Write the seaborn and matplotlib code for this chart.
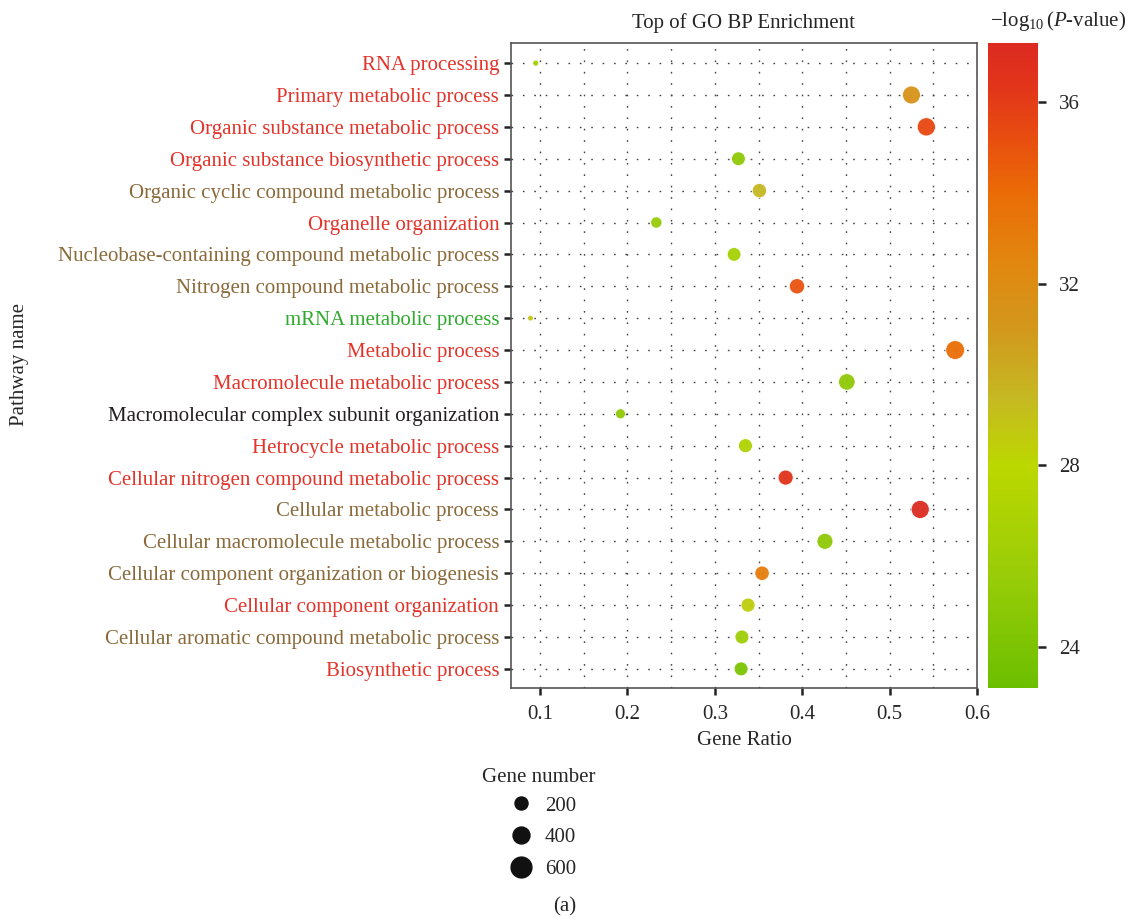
import numpy as np
import pandas as pd
import matplotlib
matplotlib.use("Agg")
import matplotlib.pyplot as plt
import seaborn as sns
from matplotlib.colors import LinearSegmentedColormap, Normalize
from matplotlib.cm import ScalarMappable
from matplotlib.lines import Line2D

pathways = [
    "RNA processing",
    "Primary metabolic process",
    "Organic substance metabolic process",
    "Organic substance biosynthetic process",
    "Organic cyclic compound metabolic process",
    "Organelle organization",
    "Nucleobase-containing compound metabolic process",
    "Nitrogen compound metabolic process",
    "mRNA metabolic process",
    "Metabolic process",
    "Macromolecule metabolic process",
    "Macromolecular complex subunit organization",
    "Hetrocycle metabolic process",
    "Cellular nitrogen compound metabolic process",
    "Cellular metabolic process",
    "Cellular macromolecule metabolic process",
    "Cellular component organization or biogenesis",
    "Cellular component organization",
    "Cellular aromatic compound metabolic process",
    "Biosynthetic process",
]
gene_ratio = [0.095, 0.525, 0.542, 0.327, 0.351, 0.233, 0.322, 0.394, 0.089, 0.575,
              0.451, 0.192, 0.335, 0.381, 0.535, 0.426, 0.354, 0.338, 0.331, 0.330]
gene_number = [112, 620, 640, 385, 414, 274, 380, 465, 104, 678,
               532, 227, 395, 450, 631, 502, 418, 399, 391, 389]
neg_log_p = [26.5, 31.5, 35.5, 25.0, 29.5, 25.5, 26.5, 35.0, 29.0, 34.0,
             25.0, 25.0, 27.0, 36.5, 37.2, 25.0, 33.0, 28.5, 26.0, 24.0]
label_colors = ["r", "r", "r", "r", "b", "r", "b", "b", "g", "r",
                "r", "k", "r", "r", "b", "b", "b", "r", "b", "r"]
color_map = {"r": "#e3342b", "b": "#8a6a3a", "g": "#2eaa2e", "k": "#231f20"}
legend_counts = ["200", "400", "600"]

df = pd.DataFrame({"Pathway": pathways, "GeneRatio": gene_ratio,
                   "Count": gene_number, "logp": neg_log_p})

sns.set_style("white")
plt.rcParams["font.family"] = ["Liberation Serif", "DejaVu Serif"]
plt.rcParams["mathtext.fontset"] = "custom"
plt.rcParams["mathtext.rm"] = "Liberation Serif"
plt.rcParams["mathtext.it"] = "Liberation Serif:italic"
FS = 15

vmin, vmax = 23.1, 37.3
stops = [(23.1, "#6cbf00"), (25.5, "#98cc08"), (28.0, "#bcd800"), (29.5, "#c6b822"),
         (31.0, "#d2981c"), (32.5, "#e2860f"), (34.0, "#ea6c06"), (35.3, "#e84c10"),
         (36.3, "#e2361a"), (37.3, "#dc2a20")]
cmap = LinearSegmentedColormap.from_list(
    "gobp", [((v - vmin) / (vmax - vmin), c) for v, c in stops])
norm = Normalize(vmin, vmax)

W, H = 1131, 919
fig = plt.figure(figsize=(W / 100, H / 100), dpi=100)
ax = fig.add_axes([511 / W, 1 - 688 / H, 466 / W, 645 / H])
cax = fig.add_axes([988 / W, 1 - 688 / H, 50 / W, 645 / H])

sns.scatterplot(data=df, x="GeneRatio", y="Pathway", hue="logp", size="Count",
                palette=cmap, hue_norm=norm, sizes=(16, 185), size_norm=(100, 680),
                edgecolor="white", linewidth=0.6, alpha=0.95, legend=False, ax=ax, zorder=3)

ax.set_xlim(0.0667, 0.6)
ax.set_ylim(len(pathways) - 1 + 0.6, -0.63)
ax.set_xticks([0.1, 0.2, 0.3, 0.4, 0.5, 0.6])
ax.set_xticks(np.arange(0.15, 0.6, 0.1), minor=True)
ax.set_yticks(range(len(pathways)))
ax.set_yticklabels(pathways)
ax.grid(True, which="both", linestyle=(0, (1.2, 7)), color="#444444", linewidth=1.0)
ax.set_axisbelow(True)
for s in ax.spines.values():
    s.set_color("#555555")
    s.set_linewidth(1.2)
ax.tick_params(axis="both", which="major", direction="out", length=5, width=1.8,
               color="#222222", labelsize=FS, bottom=True, left=True)
ax.tick_params(axis="x", which="major", pad=7)
ax.tick_params(axis="x", which="minor", length=0)
for lbl, c in zip(ax.get_yticklabels(), label_colors):
    lbl.set_color(color_map[c])
ax.set_xlabel("Gene Ratio", fontsize=FS, labelpad=5)
ax.set_ylabel("")
fig.text(20 / W, 1 - 365 / H, "Pathway name", rotation=90, ha="center", va="center",
         fontsize=FS)
ax.set_title("Top of GO BP Enrichment", fontsize=FS, pad=11)

cb = fig.colorbar(ScalarMappable(norm=norm, cmap=cmap), cax=cax, ticks=[24, 28, 32, 36])
cb.outline.set_visible(False)
cax.tick_params(length=6, width=1.8, color="#222222", labelsize=FS, pad=9)
fig.text(1058 / W, 1 - 21 / H, r"$-\mathrm{log}_{10}\,(P$-value)", ha="center",
         va="center", fontsize=FS)

fig.text(482 / W, 1 - 777 / H, "Gene number", ha="left", va="center", fontsize=FS)
handles = [Line2D([], [], marker="o", linestyle="", color="#111111", markersize=ms)
           for ms in (9.4, 12.2, 15.0)]
leg = fig.legend(handles, legend_counts, loc="upper left",
                 bbox_to_anchor=(504 / W, 1 - 796 / H), frameon=False, fontsize=FS,
                 labelspacing=0.58, handlelength=1.6, handletextpad=0.35,
                 borderaxespad=0, borderpad=0)

fig.text(565 / W, 1 - 907 / H, "(a)", ha="center", va="center", fontsize=FS)

fig.savefig("out.png", dpi=100)
